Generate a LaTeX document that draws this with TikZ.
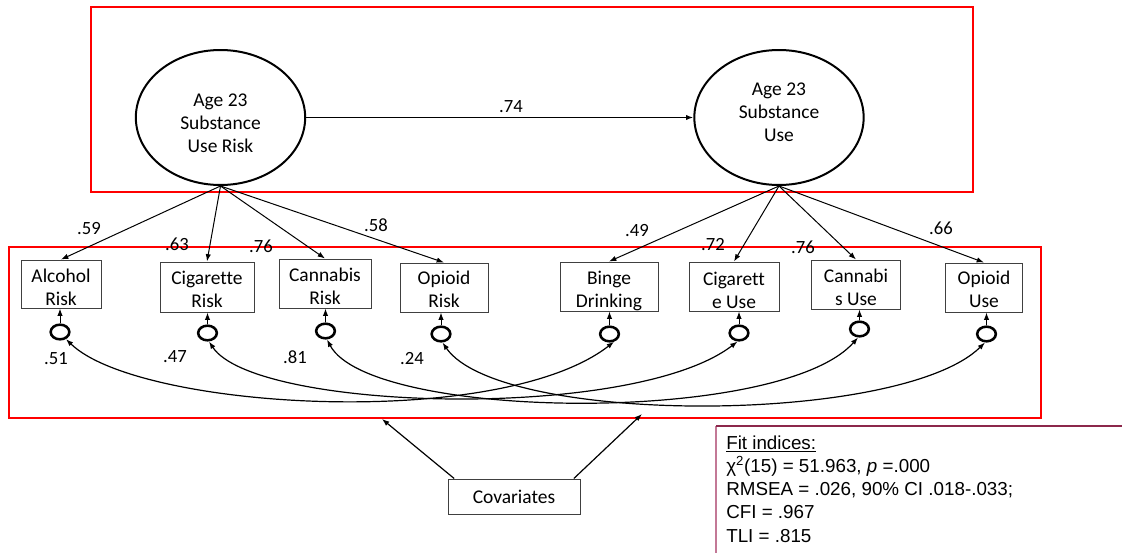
\documentclass[tikz,border=0pt]{standalone}
\usepackage{fontspec}
\setmainfont{Carlito}[Ligatures=CommonOff]
\newfontfamily\fitfont{Liberation Sans}
\usetikzlibrary{arrows.meta,shapes.geometric}

\definecolor{framered}{RGB}{255,0,0}
\definecolor{fitedge}{RGB}{140,40,75}
\definecolor{fitside}{RGB}{195,120,150}

\newcommand{\twolines}[2]{\strut #1\\\strut #2}
\newcommand{\threelines}[3]{\strut #1\\\strut #2\\\strut #3}

\begin{document}
\begin{tikzpicture}[x=0.75pt,y=-0.75pt,
  tip/.style={-{Latex[length=5.5pt,width=4pt]}},
  both/.style={{Latex[length=5.5pt,width=4pt]}-{Latex[length=5.5pt,width=4pt]}},
  latent/.style={draw,ellipse,line width=1.5pt,minimum width=127pt,minimum height=101.25pt,inner sep=0pt},
  indic/.style={draw=black!75,line width=0.75pt,rectangle,inner sep=0pt},
  lbl/.style={font=\fontsize{14.6}{17.4}\selectfont,align=center,inner sep=0pt},
  coef/.style={font=\fontsize{14}{16}\selectfont,inner sep=0pt},
  resid/.style={draw,ellipse,line width=1.9pt,minimum width=14pt,minimum height=11pt,inner sep=0pt},
  frame/.style={draw=framered,line width=2.2pt},
  path/.style={line width=0.75pt},
  cov/.style={line width=0.9pt},
]
\useasboundingbox (0,0) rectangle (1122,553);

% group frames
\draw[frame] (91,7) rectangle (973,192);
\draw[frame] (9,247) rectangle (1041,418);
\coordinate (inL) at (382,419);
\coordinate (inR) at (642,414);

% latent factors
\node[latent] (L) at (220.5,117.5) {};
\node[latent] (R) at (779,117.5) {};
\node[lbl] (Ltxt) at (220.5,125) {\threelines{Age 23}{Substance}{Use Risk}};
\node[lbl] (Rtxt) at (779,114) {\threelines{Age 23}{Substance}{Use}};
\draw[tip,line width=0.9pt] (L.east) -- (R.west);
\node[coef] (c74) at (511,107) {.74};

% indicators
\node[indic,minimum width=60pt,minimum height=36pt] (b1) at (61,284) {};
\node[indic,minimum width=70.5pt,minimum height=37.5pt] (b2) at (207,287) {};
\node[indic,minimum width=69pt,minimum height=36.75pt] (b3) at (325,283.5) {};
\node[indic,minimum width=66pt,minimum height=36.75pt] (b4) at (444,287.5) {};
\node[indic,minimum width=73.5pt,minimum height=36.75pt] (b5) at (609,286.5) {};
\node[indic,minimum width=67.5pt,minimum height=36.75pt] (b6) at (734,286.5) {};
\node[indic,minimum width=67pt,minimum height=36.75pt] (b7) at (856,284.5) {};
\node[indic,minimum width=57.5pt,minimum height=36.75pt] (b8) at (984,287.5) {};

\node[lbl] (t1) at (61,289) {\twolines{Alcohol}{Risk}};
\node[lbl] (t2) at (207,291.5) {\twolines{Cigarette}{Risk}};
\node[lbl] (t3) at (325,288) {\twolines{Cannabis}{Risk}};
\node[lbl] (t4) at (444,291.5) {\twolines{Opioid}{Risk}};
\node[lbl] (t5) at (609,291.5) {\twolines{Binge}{Drinking}};
\node[lbl] (t6) at (734,292) {\twolines{Cigarett}{e Use}};
\node[lbl] (t7) at (856,289) {\twolines{Cannabi}{s Use}};
\node[lbl] (t8) at (984,291.5) {\twolines{Opioid}{Use}};

% loadings
\foreach \b in {b1,b2,b3,b4} \draw[tip,path] (L.south) -- (\b.north);
\foreach \b in {b5,b6,b7,b8} \draw[tip,path] (R.south) -- (\b.north);
\node[coef] (l1) at (89,229) {.59};
\node[coef] (l2) at (177,244) {.63};
\node[coef] (l3) at (261,246) {.76};
\node[coef] (l4) at (376,225) {.58};
\node[coef] (l5) at (637,231) {.49};
\node[coef] (l6) at (713,245) {.72};
\node[coef] (l7) at (803,247) {.76};
\node[coef] (l8) at (941,228) {.66};

% residuals
\node[resid] (r1) at (60,332) {};
\node[resid] (r2) at (207.5,333) {};
\node[resid] (r3) at (325.5,331) {};
\node[resid] (r4) at (441,334) {};
\node[resid] (r5) at (609.5,334) {};
\node[resid] (r6) at (739,333) {};
\node[resid] (r7) at (859.5,329) {};
\node[resid] (r8) at (986.5,334) {};
\draw[tip,path] (r1.north) -- (r1.north |- b1.south);
\draw[tip,path] (r2.north) -- (r2.north |- b2.south);
\draw[tip,path] (r3.north) -- (r3.north |- b3.south);
\draw[tip,path] (r4.north) -- (r4.north |- b4.south);
\draw[tip,path] (r5.north) -- (r5.north |- b5.south);
\draw[tip,path] (r6.north) -- (r6.north |- b6.south);
\draw[tip,path] (r7.north) -- (r7.north |- b7.south);
\draw[tip,path] (r8.north) -- (r8.north |- b8.south);

% residual covariances
\draw[both,line width=0.9pt] (r1.-50) .. controls +(73,71) and +(-114,89) .. (r5.-60);
\draw[both,line width=0.9pt] (r2.-80) .. controls +(46,70) and +(-104,80) .. (r6.-100);
\draw[both,line width=0.9pt] (r3.-80) .. controls +(43,81) and +(-78,88) .. (r7.-100);
\draw[both,line width=0.9pt] (r4.-80) .. controls +(57,83) and +(-85,83) .. (r8.-100);
\node[coef] (e1) at (56,359) {.51};
\node[coef] (e2) at (175,357) {.47};
\node[coef] (e3) at (295,357) {.81};
\node[coef] (e4) at (412,359) {.24};

% covariates
\node[indic,minimum width=99pt,minimum height=26.25pt] (cv) at (514,496.5) {};
\node[lbl] (cvt) at (514,497) {Covariates};
\draw[tip,cov] ([xshift=5pt]cv.north west) -- (inL);
\draw[tip,cov] ([xshift=-5pt]cv.north east) -- (inR);

% fit indices panel
\draw[fitside,line width=1pt] (716,426) -- (716,553);
\draw[fitedge,line width=1pt] (716,426) -- (1122,426);
\node[anchor=north west,inner sep=0pt,align=left,
      font=\fitfont\fontsize{14.1}{17.4}\selectfont] (fit) at (726,435.5)
  {\underline{Fit indices:}\\
   χ\textsuperscript{2}(15) = 51.963, \textit{p} =.000\\
   RMSEA = .026, 90\% CI .018-.033;\\
   CFI = .967\\
   TLI = .815};
\end{tikzpicture}
\end{document}
